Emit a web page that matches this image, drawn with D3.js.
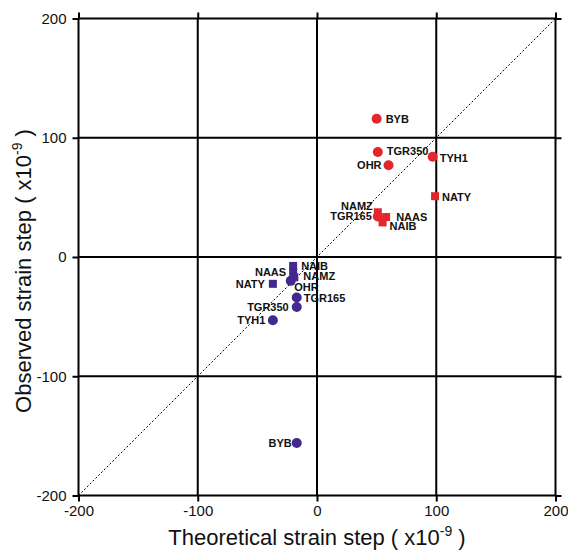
<!DOCTYPE html>
<html><head><meta charset="utf-8">
<script src="https://cdn.jsdelivr.net/npm/d3@7"></script>
<style>body{margin:0;background:#fff}svg{display:block}</style>
</head><body><svg id="c" width="568" height="550"></svg>
<script>
// Data
const stations = ["BYB","TGR350","OHR","TYH1","NATY","NAMZ","TGR165","NAAS","NAIB"];
const shapes   = ["circle","circle","circle","circle","square","square","circle","square","square"];
// Positive step group (red)
const posTheo = [50, 51, 60, 97, 99, 51, 51, 58, 55];
const posObs  = [116, 88, 77, 84, 51, 37.5, 34, 33.5, 29];
// Negative step group (purple)
const negTheo = [-17, -17, -22, -37, -37, -19, -17, -20, -20];
const negObs  = [-156, -42, -20, -53, -22.5, -17, -34, -12.5, -7.5];
const ticks = [-200, -100, 0, 100, 200];
const tickLabels = ["-200", "-100", "0", "100", "200"];

// Label placement (layout only)
const posLab = {BYB:[9,4,"start"],TGR350:[9,3,"start"],OHR:[-7,4,"end"],TYH1:[7,5,"start"],NATY:[7,5,"start"],
  NAMZ:[-5,-2,"end"],TGR165:[-6,4,"end"],NAAS:[10,4,"start"],NAIB:[7,8,"start"]};
const negLab = {BYB:[-5,4,"end"],TGR350:[-8,4,"end"],OHR:[3.5,10.5,"start"],TYH1:[-7.5,4,"end"],NATY:[-8,4,"end"],
  NAMZ:[9,3,"start"],TGR165:[7,4.5,"start"],NAAS:[-7,4,"end"],NAIB:[8,4.5,"start"]};

const svg = d3.select("#c");
const x = d3.scaleLinear().domain([-200,200]).range([78.5,555.5]);
const y = d3.scaleLinear().domain([-200,200]).range([495.5,18.5]);
const F = "'Liberation Sans', Arial, Helvetica, sans-serif";
const fmt = v => tickLabels[ticks.indexOf(v)];

// diagonal
svg.append("line").attr("x1",x(-200)).attr("y1",y(-200)).attr("x2",x(200)).attr("y2",y(200))
  .attr("stroke","#000").attr("stroke-width",1).attr("stroke-dasharray","2,2");

// grid + frame lines
const g = svg.append("g").attr("stroke","#000").attr("stroke-width",2);
ticks.forEach(t=>{
  g.append("line").attr("x1",x(t)).attr("x2",x(t)).attr("y1",y(200)).attr("y2",y(-200));
  g.append("line").attr("y1",y(t)).attr("y2",y(t)).attr("x1",x(-200)).attr("x2",x(200));
});

function styleAxis(sel){
  sel.select(".domain").remove();
  sel.selectAll(".tick line").attr("stroke","#000").attr("stroke-width",2);
  sel.selectAll(".tick text").attr("font-family",F).attr("font-size",15).attr("fill","#111");
}
svg.append("g").attr("transform",`translate(0,${y(-200)})`)
  .call(d3.axisBottom(x).tickValues(ticks).tickFormat(fmt).tickSize(6).tickPadding(4).tickSizeOuter(0)).call(styleAxis);
svg.append("g").attr("transform",`translate(${x(-200)},0)`)
  .call(d3.axisLeft(y).tickValues(ticks).tickFormat(fmt).tickSize(6).tickPadding(6).tickSizeOuter(0)).call(styleAxis);
svg.append("g").attr("transform",`translate(0,${y(200)})`)
  .call(d3.axisTop(x).tickValues(ticks).tickSize(6).tickFormat("").tickSizeOuter(0)).call(styleAxis);
svg.append("g").attr("transform",`translate(${x(200)},0)`)
  .call(d3.axisRight(y).tickValues(ticks).tickSize(6).tickFormat("").tickSizeOuter(0)).call(styleAxis);

// titles
const xt = svg.append("text").attr("x",317).attr("y",545).attr("text-anchor","middle")
  .attr("font-family",F).attr("font-size",22).attr("fill","#111");
xt.append("tspan").text("Theoretical strain step ( x10");
xt.append("tspan").attr("font-size",14).attr("dy",-9).text("-9");
xt.append("tspan").attr("dy",9).text(" )");
const yt = svg.append("text").attr("transform","translate(31,271) rotate(-90)").attr("text-anchor","middle")
  .attr("font-family",F).attr("font-size",22).attr("fill","#111");
yt.append("tspan").text("Observed strain step ( x10");
yt.append("tspan").attr("font-size",14).attr("dy",-9).text("-9");
yt.append("tspan").attr("dy",9).text(" )");

function drawGroup(theo, obs, color, lab){
  const data = stations.map((s,i)=>({s, shape:shapes[i], tx:theo[i], ob:obs[i]}));
  const gg = svg.append("g");
  data.forEach(d=>{
    const px = x(d.tx), py = y(d.ob);
    if(d.shape==="circle") gg.append("circle").attr("cx",px).attr("cy",py).attr("r",5).attr("fill",color);
    else gg.append("rect").attr("x",px-4).attr("y",py-4).attr("width",8).attr("height",8).attr("fill",color);
  });
  data.forEach(d=>{
    const L = lab[d.s];
    gg.append("text").attr("x",x(d.tx)+L[0]).attr("y",y(d.ob)+L[1]).attr("text-anchor",L[2])
      .attr("font-family",F).attr("font-weight","bold").attr("font-size",11).attr("fill","#111").text(d.s);
  });
}
drawGroup(posTheo, posObs, "#e3262b", posLab);
drawGroup(negTheo, negObs, "#43298f", negLab);
</script></body></html>
